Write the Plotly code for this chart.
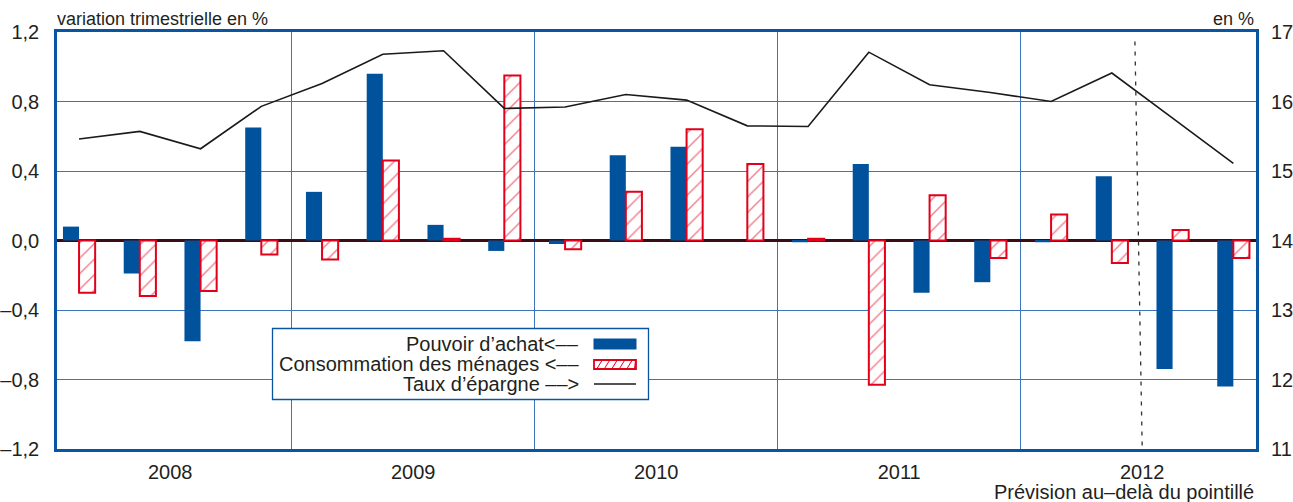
import plotly.graph_objects as go

quarters = list(range(20))  # T1 2008 ... T4 2012
years = ["2008", "2009", "2010", "2011", "2012"]
year_pos = [1.5, 5.5, 9.5, 13.5, 17.5]
year_bounds = [3.5, 7.5, 11.5, 15.5]

pouvoir_achat = [0.08, -0.19, -0.58, 0.65,
                 0.28, 0.96, 0.09, -0.06,
                 -0.02, 0.49, 0.54, 0.0,
                 -0.01, 0.44, -0.30, -0.24,
                 -0.01, 0.37, -0.74, -0.84]
consommation = [-0.30, -0.32, -0.29, -0.08,
                -0.11, 0.46, 0.01, 0.95,
                -0.05, 0.28, 0.64, 0.44,
                0.01, -0.83, 0.26, -0.10,
                0.15, -0.13, 0.06, -0.10]
taux_epargne = [15.46, 15.57, 15.32, 15.93,
                16.26, 16.68, 16.73, 15.90,
                15.92, 16.10, 16.02, 15.65,
                15.64, 16.71, 16.24, 16.13,
                16.00, 16.41, 15.76, 15.11]

left_ticks = [-1.2, -0.8, -0.4, 0.0, 0.4, 0.8, 1.2]
left_ticktext = ["\u20131,2", "\u20130,8", "\u20130,4", "0,0", "0,4", "0,8", "1,2"]
right_ticks = [11, 12, 13, 14, 15, 16, 17]

forecast_top = (17.38, 1.145)
forecast_bottom = (17.50, -1.2)

BLUE = "#00529c"
RED = "#e2001a"
GRID = "#3d75ba"
FRAME = "#0a55a2"
TXT = "#231f20"
FONT = "Liberation Sans, Arial, Helvetica, sans-serif"

W, H = 1293, 502
L, R, T, B = 57, 1256, 32, 449

fig = go.Figure()
fig.add_trace(go.Bar(x=quarters, y=pouvoir_achat, name="Pouvoir d\u2019achat<\u2013\u2013",
                     marker=dict(color=BLUE, line=dict(width=0)), showlegend=False))
fig.add_trace(go.Bar(x=quarters, y=consommation, name="Consommation des m\u00e9nages <\u2013\u2013",
                     marker=dict(color="white", line=dict(color=RED, width=2),
                                 pattern=dict(shape="/", fgcolor=RED, bgcolor="white",
                                              size=11, solidity=0.13)),
                     showlegend=False))
fig.add_trace(go.Scatter(x=quarters, y=taux_epargne, yaxis="y2", mode="lines",
                         name="Taux d\u2019\u00e9pargne \u2013\u2013>",
                         line=dict(color="#1a1a1a", width=1.6), showlegend=False))

def px(xp):
    return (xp - L) / (R - L)

def py(yp):
    return (B - yp) / (B - T)

shapes = []
# forecast dotted divider
shapes.append(dict(type="line", xref="x", yref="y",
                   x0=forecast_top[0], y0=forecast_top[1],
                   x1=forecast_bottom[0], y1=forecast_bottom[1],
                   line=dict(color="#333333", width=1.3, dash="4px,6px")))

# custom legend box
shapes.append(dict(type="rect", xref="paper", yref="paper",
                   x0=px(272.5), x1=px(648.5), y0=py(399.5), y1=py(328.5),
                   line=dict(color=FRAME, width=1.3), fillcolor="white", layer="above"))
# blue swatch
shapes.append(dict(type="rect", xref="paper", yref="paper",
                   x0=px(593.5), x1=px(636.5), y0=py(349.5), y1=py(338.5),
                   line=dict(width=0), fillcolor=BLUE, layer="above"))
# red hatched swatch
shapes.append(dict(type="rect", xref="paper", yref="paper",
                   x0=px(594), x1=px(636), y0=py(369), y1=py(360),
                   line=dict(color=RED, width=1.8), fillcolor="white", layer="above"))
for i in range(6):
    xs = 597 + i * 7.5
    shapes.append(dict(type="line", xref="paper", yref="paper",
                       x0=px(xs), y0=py(368.5), x1=px(min(xs + 5, 635.5)), y1=py(360.5),
                       line=dict(color=RED, width=1), layer="above"))
# line swatch
shapes.append(dict(type="line", xref="paper", yref="paper",
                   x0=px(594), x1=px(636), y0=py(384), y1=py(384),
                   line=dict(color="#1a1a1a", width=1.6), layer="above"))
fig.update_layout(shapes=shapes)

annotations = []
leg_texts = ["Pouvoir d\u2019achat<\u2013\u2013",
             "Consommation des m\u00e9nages <\u2013\u2013",
             "Taux d\u2019\u00e9pargne \u2013\u2013>"]
leg_y = [343.5, 363.5, 383.5]
for t, yy in zip(leg_texts, leg_y):
    annotations.append(dict(text=t, xref="paper", yref="paper", x=px(581), y=py(yy),
                            xanchor="right", yanchor="middle", showarrow=False,
                            font=dict(size=20, color=TXT, family=FONT)))
annotations.append(dict(text="variation trimestrielle en %", xref="paper", yref="paper",
                        x=px(55), y=py(19), xanchor="left", yanchor="middle", showarrow=False,
                        font=dict(size=18, color=TXT, family=FONT)))
annotations.append(dict(text="en %", xref="paper", yref="paper",
                        x=px(1256), y=py(19), xanchor="right", yanchor="middle", showarrow=False,
                        font=dict(size=18, color=TXT, family=FONT)))
annotations.append(dict(text="Pr\u00e9vision au\u2013del\u00e0 du pointill\u00e9", xref="paper", yref="paper",
                        x=px(1256), y=py(492), xanchor="right", yanchor="middle", showarrow=False,
                        font=dict(size=20, color=TXT, family=FONT)))
fig.update_layout(annotations=annotations)

fig.update_layout(
    width=W, height=H,
    margin=dict(l=L, r=W - R, t=T, b=H - B, autoexpand=False),
    paper_bgcolor="white", plot_bgcolor="white",
    barmode="group", bargap=0.47, bargroupgap=0,
    font=dict(family=FONT, size=20, color=TXT),
    xaxis=dict(range=[-0.363, 19.373], tickmode="array", tickvals=year_pos, ticktext=years,
               showgrid=False, zeroline=False, automargin=False,
               ticks="outside", ticklen=3, tickcolor="rgba(0,0,0,0)",
               minor=dict(tickmode="array", tickvals=year_bounds, showgrid=True,
                          gridcolor=GRID, gridwidth=1.2, ticks=""),
               showline=True, linecolor=FRAME, linewidth=2.5, mirror=True,
               tickfont=dict(size=20, color=TXT)),
    yaxis=dict(range=[-1.2, 1.2], tickmode="array", tickvals=left_ticks, ticktext=left_ticktext,
               showgrid=True, gridcolor=GRID, gridwidth=1.2, automargin=False,
               zeroline=True, zerolinecolor="#3a0c16", zerolinewidth=2.5,
               ticks="outside", ticklen=11, tickcolor="rgba(0,0,0,0)",
               showline=True, linecolor=FRAME, linewidth=2.5, mirror=True,
               tickfont=dict(size=20, color=TXT)),
    yaxis2=dict(range=[11, 17], tickmode="array", tickvals=right_ticks, automargin=False,
                overlaying="y", side="right", showgrid=False, zeroline=False,
                ticks="outside", ticklen=10, tickcolor="rgba(0,0,0,0)",
                showline=False, tickfont=dict(size=20, color=TXT)),
)

fig.write_html("out.html", config={"displayModeBar": False},
               post_script="document.body.style.margin='0';document.body.style.overflow='hidden';")
